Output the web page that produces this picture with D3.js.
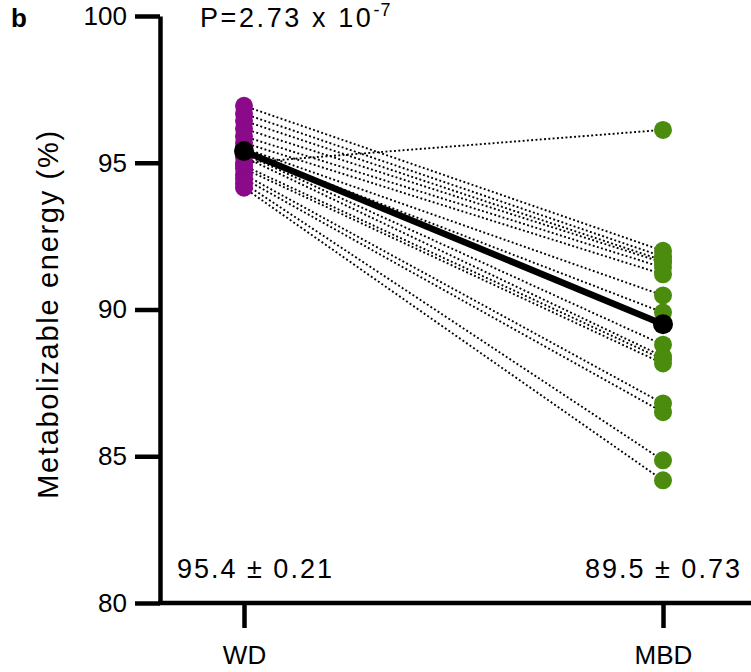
<!DOCTYPE html>
<html>
<head>
<meta charset="utf-8">
<script src="https://cdn.jsdelivr.net/npm/d3@7"></script>
<style>
  html, body { margin: 0; padding: 0; background: #fff; }
  svg { display: block; }
  text { font-family: "Liberation Sans", Arial, Helvetica, sans-serif; fill: #000; }
</style>
</head>
<body>
<svg id="chart" width="751" height="672"></svg>
<script>
// ---- data ----
const categories = ["WD", "MBD"];
const wdValues  = [96.94, 96.67, 96.43, 96.16, 95.9, 95.68, 95.5, 95.4, 95.3, 95.2, 95.0, 94.9, 94.8, 94.6, 94.46, 94.3, 94.15];
const mbdValues = [92.0, 91.8, 91.67, 91.6, 91.43, 91.2, 90.48, 89.9, 88.8, 88.4, 96.12, 88.3, 88.16, 86.8, 86.5, 84.86, 84.18];
const meanValues = [95.4, 89.5];
const statLabels = ["95.4 \u00b1 0.21", "89.5 \u00b1 0.73"];
const yTicks = [80, 85, 90, 95, 100];
const yTitle = "Metabolizable energy (%)";
const panelLabel = "b";
const pMain = "P=2.73 x 10";
const pExp = "-7";

// ---- layout ----
const svg = d3.select("#chart");
const axisX = 160, axisY = 603;
const y = d3.scaleLinear().domain([80, 100]).range([603, 16]);
const x = d3.scalePoint().domain(categories).range([244, 663]);
const purple = "#8a0a8a", green = "#4b8c0f";
const FONT = '"Liberation Sans", Arial, sans-serif';

// y axis
const yAxis = d3.axisLeft(y).tickValues(yTicks).tickSize(25).tickSizeOuter(0).tickPadding(8);
const gy = svg.append("g").attr("transform", `translate(${axisX},0)`).call(yAxis);
gy.select(".domain").attr("stroke", "#000").attr("stroke-width", 4.5);
gy.selectAll(".tick line").attr("stroke", "#000").attr("stroke-width", 4.5);
gy.selectAll(".tick text").attr("font-size", 26).style("font-family", FONT).attr("fill", "#000");

// x axis
const xAxis = d3.axisBottom(x).tickSize(25).tickSizeOuter(0).tickPadding(18);
const gx = svg.append("g").attr("transform", `translate(0,${axisY})`).call(xAxis);
gx.select(".domain").remove();
gx.append("line").attr("x1", axisX - 2).attr("x2", 751).attr("y1", 0).attr("y2", 0)
  .attr("stroke", "#000").attr("stroke-width", 4.5);
gx.selectAll(".tick line").attr("stroke", "#000").attr("stroke-width", 4.5);
gx.selectAll(".tick text").attr("font-size", 26).style("font-family", FONT).attr("fill", "#000");

// paired dotted lines
const pairs = wdValues.map((v, i) => ({ a: v, b: mbdValues[i] }));
svg.append("g").selectAll("line").data(pairs).join("line")
  .attr("x1", x("WD")).attr("y1", d => y(d.a))
  .attr("x2", x("MBD")).attr("y2", d => y(d.b))
  .attr("stroke", "#000").attr("stroke-width", 1.9)
  .attr("stroke-dasharray", "1.9,2.4");

// points
svg.append("g").selectAll("circle").data(wdValues).join("circle")
  .attr("cx", x("WD")).attr("cy", d => y(d)).attr("r", 9).attr("fill", purple);
svg.append("g").selectAll("circle").data(mbdValues).join("circle")
  .attr("cx", x("MBD")).attr("cy", d => y(d)).attr("r", 9).attr("fill", green);

// mean line
svg.append("line")
  .attr("x1", x("WD")).attr("y1", y(meanValues[0]))
  .attr("x2", x("MBD")).attr("y2", y(meanValues[1]))
  .attr("stroke", "#000").attr("stroke-width", 6.5);
svg.append("g").selectAll("circle").data(meanValues).join("circle")
  .attr("cx", (d, i) => x(categories[i])).attr("cy", d => y(d)).attr("r", 10).attr("fill", "#000");

// stats text
svg.append("text").attr("x", 177).attr("y", 578).attr("font-size", 27)
  .attr("letter-spacing", 2).text(statLabels[0]);
svg.append("text").attr("x", 585).attr("y", 578).attr("font-size", 27)
  .attr("letter-spacing", 2).text(statLabels[1]);

// y title
svg.append("text").attr("transform", "translate(58,314) rotate(-90)")
  .attr("text-anchor", "middle").attr("font-size", 29).attr("letter-spacing", 1.7).text(yTitle);

// panel label & P value
svg.append("text").attr("x", 11).attr("y", 27).attr("font-size", 26).attr("font-weight", "bold").text(panelLabel);
const pt = svg.append("text").attr("x", 200).attr("y", 27).attr("font-size", 27).attr("letter-spacing", 2.6);
pt.append("tspan").text(pMain);
pt.append("tspan").attr("font-size", 18).attr("dy", -11).attr("letter-spacing", 1).text(pExp);
</script>
</body>
</html>
